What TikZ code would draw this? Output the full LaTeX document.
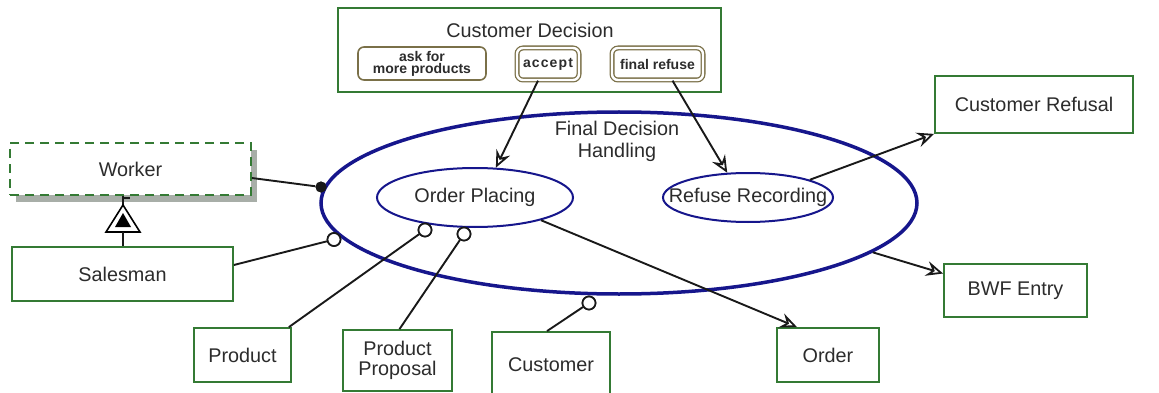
\documentclass[tikz,border=0pt]{standalone}
\usepackage{fontspec}
\setmainfont{Liberation Sans}
\usetikzlibrary{shapes.geometric,arrows.meta,shadows}

\definecolor{boxgreen}{RGB}{52,122,52}
\definecolor{olive}{RGB}{122,112,72}
\definecolor{navyline}{RGB}{22,22,140}
\definecolor{txt}{RGB}{44,44,44}
\definecolor{shadowgray}{RGB}{168,174,168}

\tikzset{
  bigtext/.style={text=txt,font=\fontsize{19.8}{23}\selectfont},
  smalltext/.style={text=txt,font=\bfseries\fontsize{14}{14}\selectfont},
  entity/.style={draw=boxgreen,line width=1.8pt,fill=white,inner sep=0pt,bigtext,align=center},
  choice/.style={draw=olive,line width=1.6pt,rounded corners=6pt,fill=white,inner sep=0pt,smalltext,align=center},
  dchoice/.style={draw=olive,line width=1.3pt,double=white,double distance=2.4pt,rounded corners=6pt,inner sep=0pt,smalltext},
  proc/.style={ellipse,draw=navyline,fill=white,inner sep=0pt},
  conn/.style={draw=black!90,line width=1.9pt},
  flowtip/.tip={Stealth[open,length=17pt 0,width=15pt 0,inset=6pt 0,line width=1.8pt]},
  arr/.style={conn,-flowtip},
  opendot/.style={circle,draw=black!90,line width=1.7pt,fill=white,inner sep=0pt,minimum size=13pt},
  filldot/.style={circle,fill=black!90,inner sep=0pt,minimum size=11pt},
}

\begin{document}
\begin{tikzpicture}[x=1pt,y=-1pt]
\useasboundingbox (0,0) rectangle (1159,393);
\clip (0,0) rectangle (1159,393);

% decision frame with its three outcomes
\node[entity,minimum width=383pt,minimum height=84pt] (cd) at (529.5,50) {};
\node[bigtext] (cdtitle) at (530,30) {Customer Decision};
\node[choice,minimum width=128pt,minimum height=33pt] (ask) at (422,63.5) {ask for\\[-2pt]more products};
\node[dchoice,minimum width=62pt,minimum height=32pt,font=\bfseries\fontsize{14}{14}\selectfont\addfontfeatures{LetterSpace=8}] (accept) at (548,64) {accept};
\node[dchoice,minimum width=91pt,minimum height=32pt] (fr) at (657.5,64) {final refuse};

% process ellipses
\node[proc,line width=3.5pt,minimum width=596pt,minimum height=182pt] (main) at (619,203) {};
\node[bigtext,align=center] (mainlabel) at (617,141) {Final Decision\\[-1pt]Handling};
\node[proc,line width=2pt,minimum width=196pt,minimum height=59pt,bigtext] (op) at (475,197.5) {Order Placing};
\node[proc,line width=2pt,minimum width=170pt,minimum height=49pt,
      label={[bigtext]center:Refuse Recording}] (rr) at (748,197.5) {};

% entities
\node[entity,dashed,dash pattern=on 9pt off 6pt,
      drop shadow={shadow xshift=6pt,shadow yshift=-7pt,fill=shadowgray,opacity=1},
      minimum width=241pt,minimum height=52pt] (worker) at (130.5,169) {Worker};
\node[entity,minimum width=221pt,minimum height=54pt] (salesman) at (122.5,274) {Salesman};
\node[entity,minimum width=97pt,minimum height=54pt] (product) at (242.5,355) {Product};
\node[entity,minimum width=109pt,minimum height=61pt] (pp) at (397.5,360.5) {Product\\[-3pt]Proposal};
\node[entity,minimum width=118pt,minimum height=70pt] (customer) at (551,367) {};
\node[bigtext] (customerlabel) at (551,365) {Customer};
\node[entity,minimum width=102pt,minimum height=54pt] (order) at (828,355) {Order};
\node[entity,minimum width=143pt,minimum height=53pt] (bwf) at (1015.5,290.5) {BWF Entry};
\node[entity,minimum width=198pt,minimum height=57pt] (cr) at (1034,104.5) {Customer Refusal};

% generalization Salesman -> Worker
\coordinate (gtop) at (123,205);
\coordinate (gbase) at (123,232);
\draw[conn] (worker.south -| gtop) -- (gtop);
\draw[conn] ([yshift=-2pt]worker.south -| gtop) -- ++(7,0);
\draw[black,line width=1.6pt,fill=white] (gtop) -- (106,232) -- (140,232) -- cycle;
\fill[black] (123,213) -- (115,227) -- (131,227) -- cycle;
\draw[conn] (gbase) -- (salesman.north -| gbase);

% participation dots
\node[filldot] (wdot) at (321,187) {};
\node[opendot] (sdot) at (334,239.5) {};
\node[opendot] (pdot) at (425,230) {};
\node[opendot] (ppdot) at (464,234) {};
\node[opendot] (cdot) at (589,303) {};

\draw[conn] ([yshift=-9pt]worker.east) -- (wdot);
\draw[conn] ([yshift=9pt]salesman.east) -- (sdot);
\draw[conn] ([xshift=-3pt]product.north east) -- (pdot);
\draw[conn] ([xshift=2pt]pp.north) -- (ppdot);
\draw[conn] ([xshift=-4pt]customer.north) -- (cdot);

% flows
\draw[arr] ([xshift=-10pt]accept.south) -- (op.55);
\draw[arr] ([xshift=15pt]fr.south) -- (rr.130);
\draw[arr] (op.-19) -- ([xshift=-31pt]order.north);
\draw[arr] (rr.16) -- (cr.south west);
\draw[arr] (main.-11) -- ([yshift=17pt]bwf.west);

% redraw dots above the lines
\node[filldot] at (wdot) {};
\node[opendot] at (sdot) {};
\node[opendot] at (pdot) {};
\node[opendot] at (ppdot) {};
\node[opendot] at (cdot) {};
\end{tikzpicture}
\end{document}
